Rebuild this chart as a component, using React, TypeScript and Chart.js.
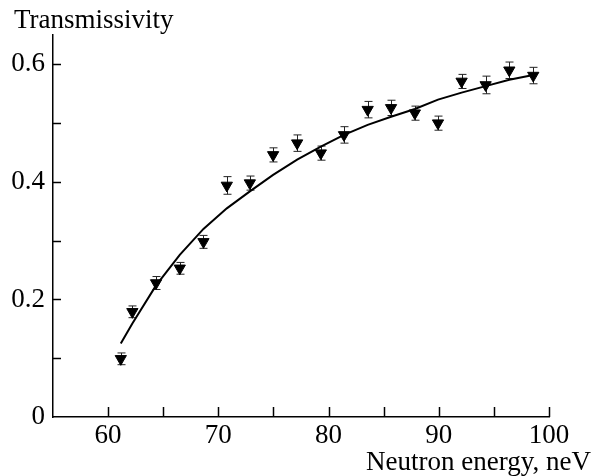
import React, { useEffect, useRef } from "react";
import { Chart, registerables } from "chart.js";

Chart.register(...registerables);

// Neutron energy (neV) of the measured points
const energy = [61.15, 62.2, 64.35, 66.5, 68.65, 70.77, 72.86, 74.97, 77.15, 79.3, 81.4, 83.55, 85.67, 87.83, 89.93, 92.07, 94.25, 96.4, 98.57];
// Measured transmissivity
const measured = [0.099, 0.179, 0.228, 0.253, 0.298, 0.394, 0.398, 0.446, 0.466, 0.449, 0.48, 0.523, 0.526, 0.517, 0.5, 0.571, 0.565, 0.59, 0.581];
// Error (half-width) of each measurement
const errors = [0.01, 0.01, 0.011, 0.01, 0.011, 0.015, 0.012, 0.012, 0.014, 0.012, 0.014, 0.014, 0.013, 0.012, 0.012, 0.012, 0.015, 0.014, 0.014];
// Calculated curve
const calculated = [0.125, 0.159, 0.224, 0.276, 0.32, 0.355, 0.384, 0.412, 0.438, 0.46, 0.48, 0.497, 0.511, 0.524, 0.54, 0.552, 0.563, 0.574, 0.582];

const xTickLabels = [60, 70, 80, 90, 100];
const xMinorTicks = [65, 75, 85, 95];
const yTickLabels = [0, 0.2, 0.4, 0.6];
const yMinorTicks = [0.1, 0.3, 0.5];

const FONT = "'Liberation Serif', 'Times New Roman', serif";
const FONT_SIZE = 27;

const decorPlugin = {
  id: "decor",
  beforeDatasetsDraw(chart: any) {
    const ctx = chart.ctx;
    const xs = chart.scales.x;
    const ys = chart.scales.y;
    // error bars
    ctx.save();
    ctx.strokeStyle = "#222";
    ctx.lineWidth = 1;
    energy.forEach((e, i) => {
      const px = Math.round(xs.getPixelForValue(e)) + 0.5;
      const top = ys.getPixelForValue(measured[i] + errors[i]);
      const bot = ys.getPixelForValue(measured[i] - errors[i]);
      ctx.beginPath();
      ctx.moveTo(px, top);
      ctx.lineTo(px, bot);
      ctx.moveTo(px - 4, top);
      ctx.lineTo(px + 4, top);
      ctx.moveTo(px - 4, bot);
      ctx.lineTo(px + 4, bot);
      ctx.stroke();
    });
    ctx.restore();
  },
  afterDraw(chart: any) {
    const ctx = chart.ctx;
    const xs = chart.scales.x;
    const ys = chart.scales.y;
    const area = chart.chartArea;
    ctx.save();
    ctx.strokeStyle = "#000";
    ctx.lineWidth = 1.5;
    // inward ticks on x axis
    [...xTickLabels, ...xMinorTicks].forEach((v) => {
      const px = Math.round(xs.getPixelForValue(v)) + 0.5;
      ctx.beginPath();
      ctx.moveTo(px, area.bottom);
      ctx.lineTo(px, area.bottom - 10);
      ctx.stroke();
    });
    // inward ticks on y axis
    [...yTickLabels.filter((v) => v !== 0), ...yMinorTicks].forEach((v) => {
      const py = Math.round(ys.getPixelForValue(v)) + 0.5;
      ctx.beginPath();
      ctx.moveTo(area.left, py);
      ctx.lineTo(area.left + 8, py);
      ctx.stroke();
    });
    // axis titles
    ctx.fillStyle = "#000";
    ctx.font = `${FONT_SIZE}px ${FONT}`;
    ctx.textBaseline = "alphabetic";
    ctx.textAlign = "left";
    ctx.fillText("Transmissivity", 14, 28);
    ctx.textAlign = "right";
    ctx.fillText("Neutron energy, neV", 591, 470);
    ctx.restore();
  },
};

export default function App() {
  const ref = useRef<HTMLCanvasElement | null>(null);

  useEffect(() => {
    if (!ref.current) return;
    const chart = new Chart(ref.current, {
      type: "scatter",
      data: {
        datasets: [
          {
            type: "scatter",
            label: "Measured",
            data: energy.map((e, i) => ({ x: e, y: measured[i] })),
            pointStyle: "triangle",
            rotation: 180,
            pointRadius: 6.5,
            backgroundColor: "#000",
            borderColor: "#000",
            borderWidth: 1,
            order: 1,
          },
          {
            type: "line",
            label: "Calculated",
            data: energy.map((e, i) => ({ x: e, y: calculated[i] })),
            borderColor: "#000",
            borderWidth: 2,
            pointRadius: 0,
            tension: 0,
            fill: false,
            order: 2,
          },
        ],
      },
      plugins: [decorPlugin],
      options: {
        animation: false,
        responsive: false,
        maintainAspectRatio: false,
        layout: { padding: { left: 0, right: 46, top: 35, bottom: 0 } },
        plugins: {
          legend: { display: false },
          tooltip: { enabled: false },
          title: { display: false },
        },
        scales: {
          x: {
            type: "linear",
            min: 55,
            max: 100,
            grid: { display: false, drawTicks: false },
            border: { display: true, color: "#000", width: 1.5 },
            afterBuildTicks: (scale: any) => {
              scale.ticks = xTickLabels.map((v) => ({ value: v }));
            },
            afterFit: (scale: any) => {
              scale.height = 59;
            },
            ticks: {
              color: "#000",
              padding: 3,
              maxRotation: 0,
              autoSkip: false,
              font: { family: FONT, size: FONT_SIZE },
              callback: (v: any) => String(v),
            },
          },
          y: {
            type: "linear",
            min: 0,
            max: 0.65,
            grid: { display: false, drawTicks: false },
            border: { display: true, color: "#000", width: 1.5 },
            afterBuildTicks: (scale: any) => {
              scale.ticks = yTickLabels.map((v) => ({ value: v }));
            },
            afterFit: (scale: any) => {
              scale.width = 53;
            },
            ticks: {
              color: "#000",
              padding: 8,
              autoSkip: false,
              font: { family: FONT, size: FONT_SIZE },
              callback: (v: any) => (v === 0 ? "0" : Number(v).toFixed(1)),
            },
          },
        },
      },
    });
    return () => chart.destroy();
  }, []);

  return (
    <div style={{ position: "fixed", left: 0, top: 0, width: 595, height: 476, background: "#fff" }}>
      <canvas ref={ref} width={595} height={476} style={{ width: 595, height: 476, display: "block" }} />
    </div>
  );
}
